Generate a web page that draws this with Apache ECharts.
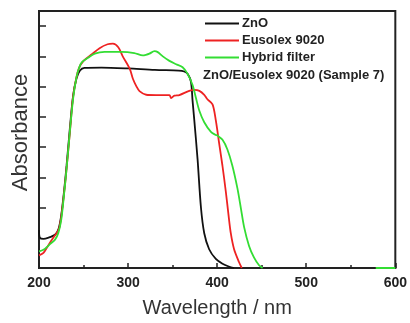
<!DOCTYPE html>
<html>
<head>
<meta charset="utf-8">
<script src="https://cdn.jsdelivr.net/npm/echarts@6/dist/echarts.min.js"></script>
<style>
  html, body { margin: 0; padding: 0; background: #fff; }
  #chart { width: 410px; height: 323px; }
</style>
</head>
<body>
<div id="chart"></div>
<script>
// wavelength (nm), absorbance (arbitrary units, tick spacing = 1)
const znoData = [
  [200, 1.26], [201, 1.0], [205, 0.96], [212, 1.02], [218, 1.1], [222, 1.3],
  [225, 1.75], [228, 2.5], [231, 3.4], [234.6, 4.6], [238.3, 5.7], [242, 6.26],
  [246, 6.53], [251, 6.62], [270, 6.63], [300, 6.6], [330, 6.55], [357, 6.53],
  [363, 6.5], [367, 6.42], [370.6, 6.16], [372.4, 5.53], [374.3, 4.9], [378, 3.6],
  [381.8, 2.0], [385.5, 1.15], [391, 0.62], [398.5, 0.3], [406, 0.14], [413, 0.05],
  [419, 0]
];
const eusolexData = [
  [200, 0.42], [205, 0.5], [210, 0.73], [216, 1.0], [222, 1.26], [225, 1.7],
  [230, 3.0], [235, 4.6], [238, 5.6], [242, 6.3], [245, 6.62], [250, 6.85],
  [259, 7.06], [268, 7.27], [277, 7.4], [283, 7.42], [289, 7.3], [294, 7.0],
  [302, 6.58], [305.4, 6.26], [309.5, 6.0], [312.8, 5.85], [320.3, 5.73],
  [331.5, 5.72], [346.4, 5.72], [348.3, 5.62], [352, 5.7], [357.5, 5.72],
  [368.7, 5.86], [374.3, 5.89], [380, 5.86], [385.5, 5.73], [388.8, 5.59],
  [394.8, 5.41], [398.5, 4.88], [402.2, 4.13], [405.9, 3.39], [409.7, 2.53],
  [412.6, 1.79], [415.3, 1.15], [419, 0.62], [424.6, 0.19], [427.6, 0]
];
const hybridData = [
  [200, 0.55], [205, 0.6], [212, 0.78], [218, 0.94], [221.6, 1.15], [225, 1.6],
  [228, 2.4], [231, 3.3], [234.6, 4.5], [238.3, 5.6], [242, 6.3], [245, 6.62],
  [248, 6.8], [255, 6.95], [262.6, 7.09], [273.7, 7.15], [292.4, 7.15], [307, 7.11],
  [316.5, 7.03], [320, 7.05], [324, 7.09], [329.6, 7.17], [333.3, 7.14], [339, 7.0],
  [346.4, 6.85], [353.9, 6.74], [361.2, 6.64], [366.8, 6.42], [372.4, 6.05],
  [376.2, 5.62], [380, 5.2], [385.5, 4.82], [393, 4.5], [398.5, 4.4], [400.3, 4.38],
  [406, 4.24], [411.5, 3.92], [417, 3.39], [422.7, 2.64], [426.5, 2.0], [430.2, 1.36],
  [435.8, 0.73], [441.3, 0.35], [447, 0.09], [451, 0],
  [null, null], [578, 0], [600, 0]
];
const seriesNames = ["ZnO", "Eusolex 9020", "Hybrid filter"];
const seriesColors = ["#111111", "#ee2222", "#33dd33"];
const yTickValues = [2, 3, 4, 5, 6, 7, 8];

const FONT = "'Liberation Sans', Arial, sans-serif";
const chart = echarts.init(document.getElementById("chart"));

const mkSeries = (i, data) => ({
  name: seriesNames[i],
  type: "line",
  data: data,
  symbol: "none",
  smooth: 0.3,
  connectNulls: false,
  lineStyle: { color: seriesColors[i], width: 1.8 },
  itemStyle: { color: seriesColors[i] },
  z: 3,
});

chart.setOption({
  animation: false,
  textStyle: { fontFamily: FONT },
  grid: {
    left: 39, right: 13, top: 11, bottom: 47,
    show: true, borderColor: "#222", borderWidth: 2,
  },
  legend: {
    orient: "vertical",
    left: 200, top: 12,
    icon: "rect",
    itemWidth: 34, itemHeight: 2, itemGap: 4,
    data: seriesNames,
    textStyle: { fontFamily: FONT, fontSize: 13, fontWeight: "bold", color: "#222", padding: [0, 0, 0, -2] },
  },
  graphic: [{
    type: "text",
    left: 203, top: 69,
    style: {
      text: "ZnO/Eusolex 9020 (Sample 7)",
      font: "bold 13px " + FONT,
      fill: "#222",
    },
  }],
  xAxis: {
    type: "value",
    min: 200, max: 600, interval: 100,
    name: "Wavelength / nm",
    nameLocation: "middle",
    nameGap: 30,
    nameTextStyle: { fontFamily: FONT, fontSize: 20, color: "#333" },
    axisLine: { show: true, onZero: false, lineStyle: { color: "#222", width: 2 } },
    axisTick: { show: true, inside: true, length: 5, lineStyle: { color: "#222", width: 1.5 } },
    minorTick: { show: true, splitNumber: 2, length: 3, lineStyle: { color: "#222", width: 1.5 } },
    axisLabel: { fontFamily: FONT, fontSize: 14, fontWeight: "bold", color: "#222", margin: 8 },
    splitLine: { show: false },
  },
  yAxis: {
    type: "value",
    min: 0, max: 8.5,
    name: "Absorbance",
    nameLocation: "middle",
    nameGap: 7,
    nameTextStyle: { fontFamily: FONT, fontSize: 22, color: "#333", padding: [0, 0, 0, 14] },
    axisLine: { show: true, onZero: false, lineStyle: { color: "#222", width: 2 } },
    axisTick: {
      show: true, inside: true, length: 7,
      customValues: yTickValues,
      lineStyle: { color: "#222", width: 1.5 },
    },
    axisLabel: { show: false },
    splitLine: { show: false },
  },
  series: [
    mkSeries(0, znoData),
    mkSeries(1, eusolexData),
    mkSeries(2, hybridData),
  ],
});
</script>
</body>
</html>
